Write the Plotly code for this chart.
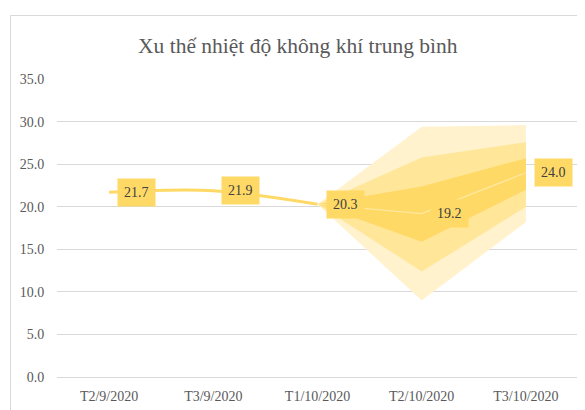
import plotly.graph_objects as go

categories = ["T2/9/2020", "T3/9/2020", "T1/10/2020", "T2/10/2020", "T3/10/2020"]
temperature = [21.7, 21.9, 20.3, 19.2, 24.0]
observed_count = 3  # first three points are observed values

forecast_categories = ["T1/10/2020", "T2/10/2020", "T3/10/2020"]
outer_upper = [20.3, 29.4, 29.6]
outer_lower = [20.3, 9.0, 18.2]
mid_upper = [20.3, 25.8, 27.6]
mid_lower = [20.3, 12.4, 20.0]
inner_upper = [20.3, 22.4, 25.7]
inner_lower = [20.3, 15.9, 22.0]

title_text = "Xu thế nhiệt độ không khí trung bình"
y_ticks = [0, 5, 10, 15, 20, 25, 30, 35]

SERIF = "Liberation Serif"
GOLD = "#FFD966"

# page has an 8px body margin: work in window pixels, shift by OFF
OFF = 8
FIG_W, FIG_H = 585 - OFF, 410 - OFF

fig = go.Figure()


def band(upper, lower, color):
    xs = forecast_categories + forecast_categories[::-1]
    ys = upper + lower[::-1]
    fig.add_trace(go.Scatter(x=xs, y=ys, mode="lines", fill="toself",
                             fillcolor=color, line=dict(width=0, color=color),
                             hoverinfo="skip", showlegend=False))


band(outer_upper, outer_lower, "#FFF2CC")
band(mid_upper, mid_lower, "#FFE699")
band(inner_upper, inner_lower, "#FFD966")

# forecast line (faint)
fig.add_trace(go.Scatter(x=categories[observed_count - 1:], y=temperature[observed_count - 1:],
                         mode="lines", line=dict(color="rgba(255,250,235,0.45)", width=1.2),
                         hoverinfo="skip", showlegend=False))

# observed line
fig.add_trace(go.Scatter(x=categories[:observed_count], y=temperature[:observed_count],
                         mode="lines", line=dict(color=GOLD, width=3, shape="spline", smoothing=1),
                         showlegend=False))

for c, v in zip(categories, temperature):
    fig.add_annotation(x=c, y=v, xref="x", yref="y", text=f"{v:.1f}", showarrow=False,
                       xanchor="left", yanchor="middle", xshift=8,
                       bgcolor=GOLD, borderpad=6,
                       font=dict(family=SERIF, size=14, color="#404040"))

# plot area in window pixels
L, R, T, B = 57, 578, 79, 377
W, H = R - L, B - T


def px_x(p):
    return (p - L) / W


def px_y(p):
    return (B - p) / H


fig.add_shape(type="rect", xref="paper", yref="paper",
              x0=px_x(10.5), x1=px_x(640), y0=px_y(15.5), y1=px_y(450),
              line=dict(color="#D9D9D9", width=1), fillcolor="rgba(0,0,0,0)", layer="below")

fig.add_annotation(x=px_x(298), y=px_y(46), xref="paper", yref="paper",
                   text=title_text, showarrow=False, xanchor="center", yanchor="middle",
                   font=dict(family=SERIF, size=21.5, color="#595959"))

fig.update_layout(
    width=FIG_W, height=FIG_H,
    margin=dict(l=L - OFF, r=585 - R, t=T - OFF, b=410 - B, pad=0),
    paper_bgcolor="white", plot_bgcolor="white",
    showlegend=False,
    xaxis=dict(type="category", categoryorder="array", categoryarray=categories,
               range=[-0.5, 4.5], showgrid=False, zeroline=False, showline=False,
               ticks="outside", ticklen=6, tickcolor="rgba(0,0,0,0)",
               tickfont=dict(family=SERIF, size=14, color="#595959")),
    yaxis=dict(range=[0, 35.02], tickvals=y_ticks, ticktext=[f"{t:.1f}" for t in y_ticks],
               showgrid=True, gridcolor="#D9D9D9", gridwidth=1,
               zeroline=True, zerolinecolor="#D9D9D9", zerolinewidth=1, showline=False,
               ticks="outside", ticklen=9, tickcolor="rgba(0,0,0,0)",
               tickfont=dict(family=SERIF, size=14, color="#595959")),
)

fig.write_html("out.html")
